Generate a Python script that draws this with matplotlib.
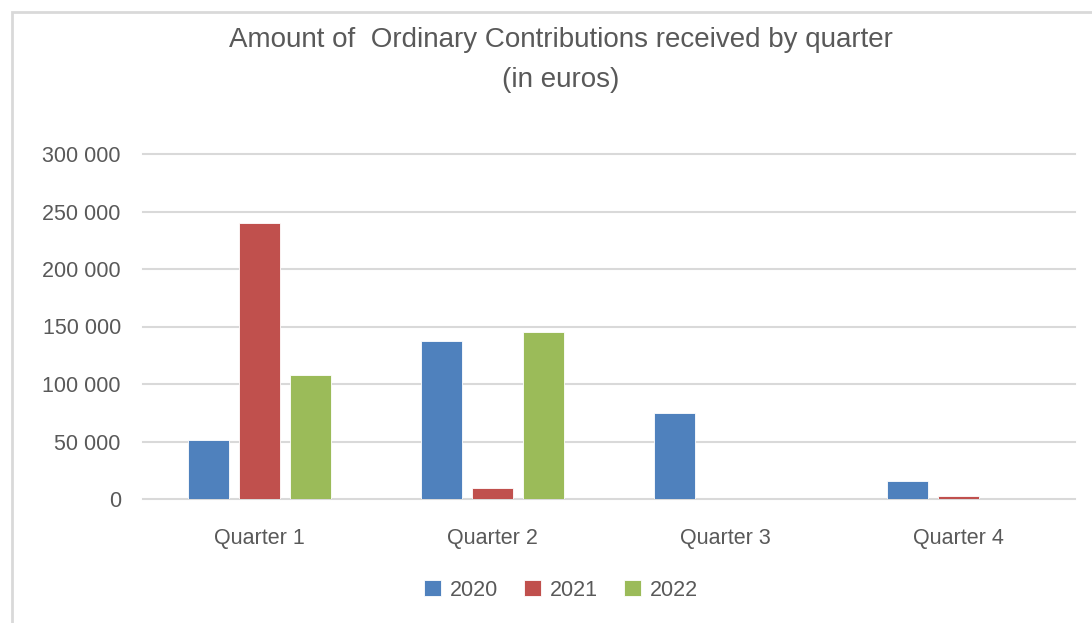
import matplotlib.pyplot as plt
import numpy as np
from matplotlib.patches import Rectangle

quarters = ['Quarter 1', 'Quarter 2', 'Quarter 3', 'Quarter 4']
years = ['2020', '2021', '2022']
vals_2020 = [51000, 137000, 75000, 15500]
vals_2021 = [240000, 9500, 0, 2500]
vals_2022 = [107500, 145000, 0, 0]
colors = ['#4f81bd', '#c0504d', '#9bbb59']

plt.rcParams['font.family'] = ['Liberation Sans', 'DejaVu Sans']
text_col = '#595959'

fig = plt.figure(figsize=(10.92, 6.23), dpi=100)
ax = fig.add_axes([143 / 1092, 1 - 499 / 623, 932 / 1092, 345 / 623])

# chart frame (left and top edges visible)
fig.patches.append(Rectangle((12 / 1092, -0.1), 1.2, 1 - 12 / 623 + 0.1,
                             transform=fig.transFigure, fill=False,
                             edgecolor='#d9d9d9', linewidth=2))

x = np.arange(len(quarters))
width = 0.176
step = 0.219
for i, (vals, yr) in enumerate(zip([vals_2020, vals_2021, vals_2022], years)):
    ax.bar(x + (i - 1) * step, vals, width, color=colors[i], label=yr,
           edgecolor='white', linewidth=0.6, zorder=3)

ax.set_xlim(-0.5, 3.5)
ax.set_ylim(0, 300000)
ax.set_yticks(np.arange(0, 300001, 50000))
ax.set_yticklabels(['0' if v == 0 else f'{v // 1000} 000' for v in range(0, 300001, 50000)])
ax.set_xticks(x)
ax.set_xticklabels(quarters)
ax.tick_params(axis='both', length=0, labelsize=15.5, colors=text_col)
ax.tick_params(axis='y', pad=16)
ax.tick_params(axis='x', pad=21)
ax.grid(axis='y', color='#d9d9d9', linewidth=1.5, zorder=0)
for gl in ax.get_ygridlines():
    gl.set_clip_on(False)
for s in ax.spines.values():
    s.set_visible(False)

fig.text(561 / 1092, 1 - 40 / 623, 'Amount of  Ordinary Contributions received by quarter',
         ha='center', va='center', fontsize=20, color=text_col)
fig.text(561 / 1092, 1 - 80 / 623, '(in euros)', ha='center', va='center',
         fontsize=20, color=text_col)

fig.legend(loc='center', bbox_to_anchor=(561 / 1092, 1 - 590 / 623), ncol=3,
           frameon=False, fontsize=15.5, handlelength=0.8, handleheight=0.8,
           handletextpad=0.4, columnspacing=1.2, labelcolor=text_col)

fig.savefig('out.png', dpi=100)
